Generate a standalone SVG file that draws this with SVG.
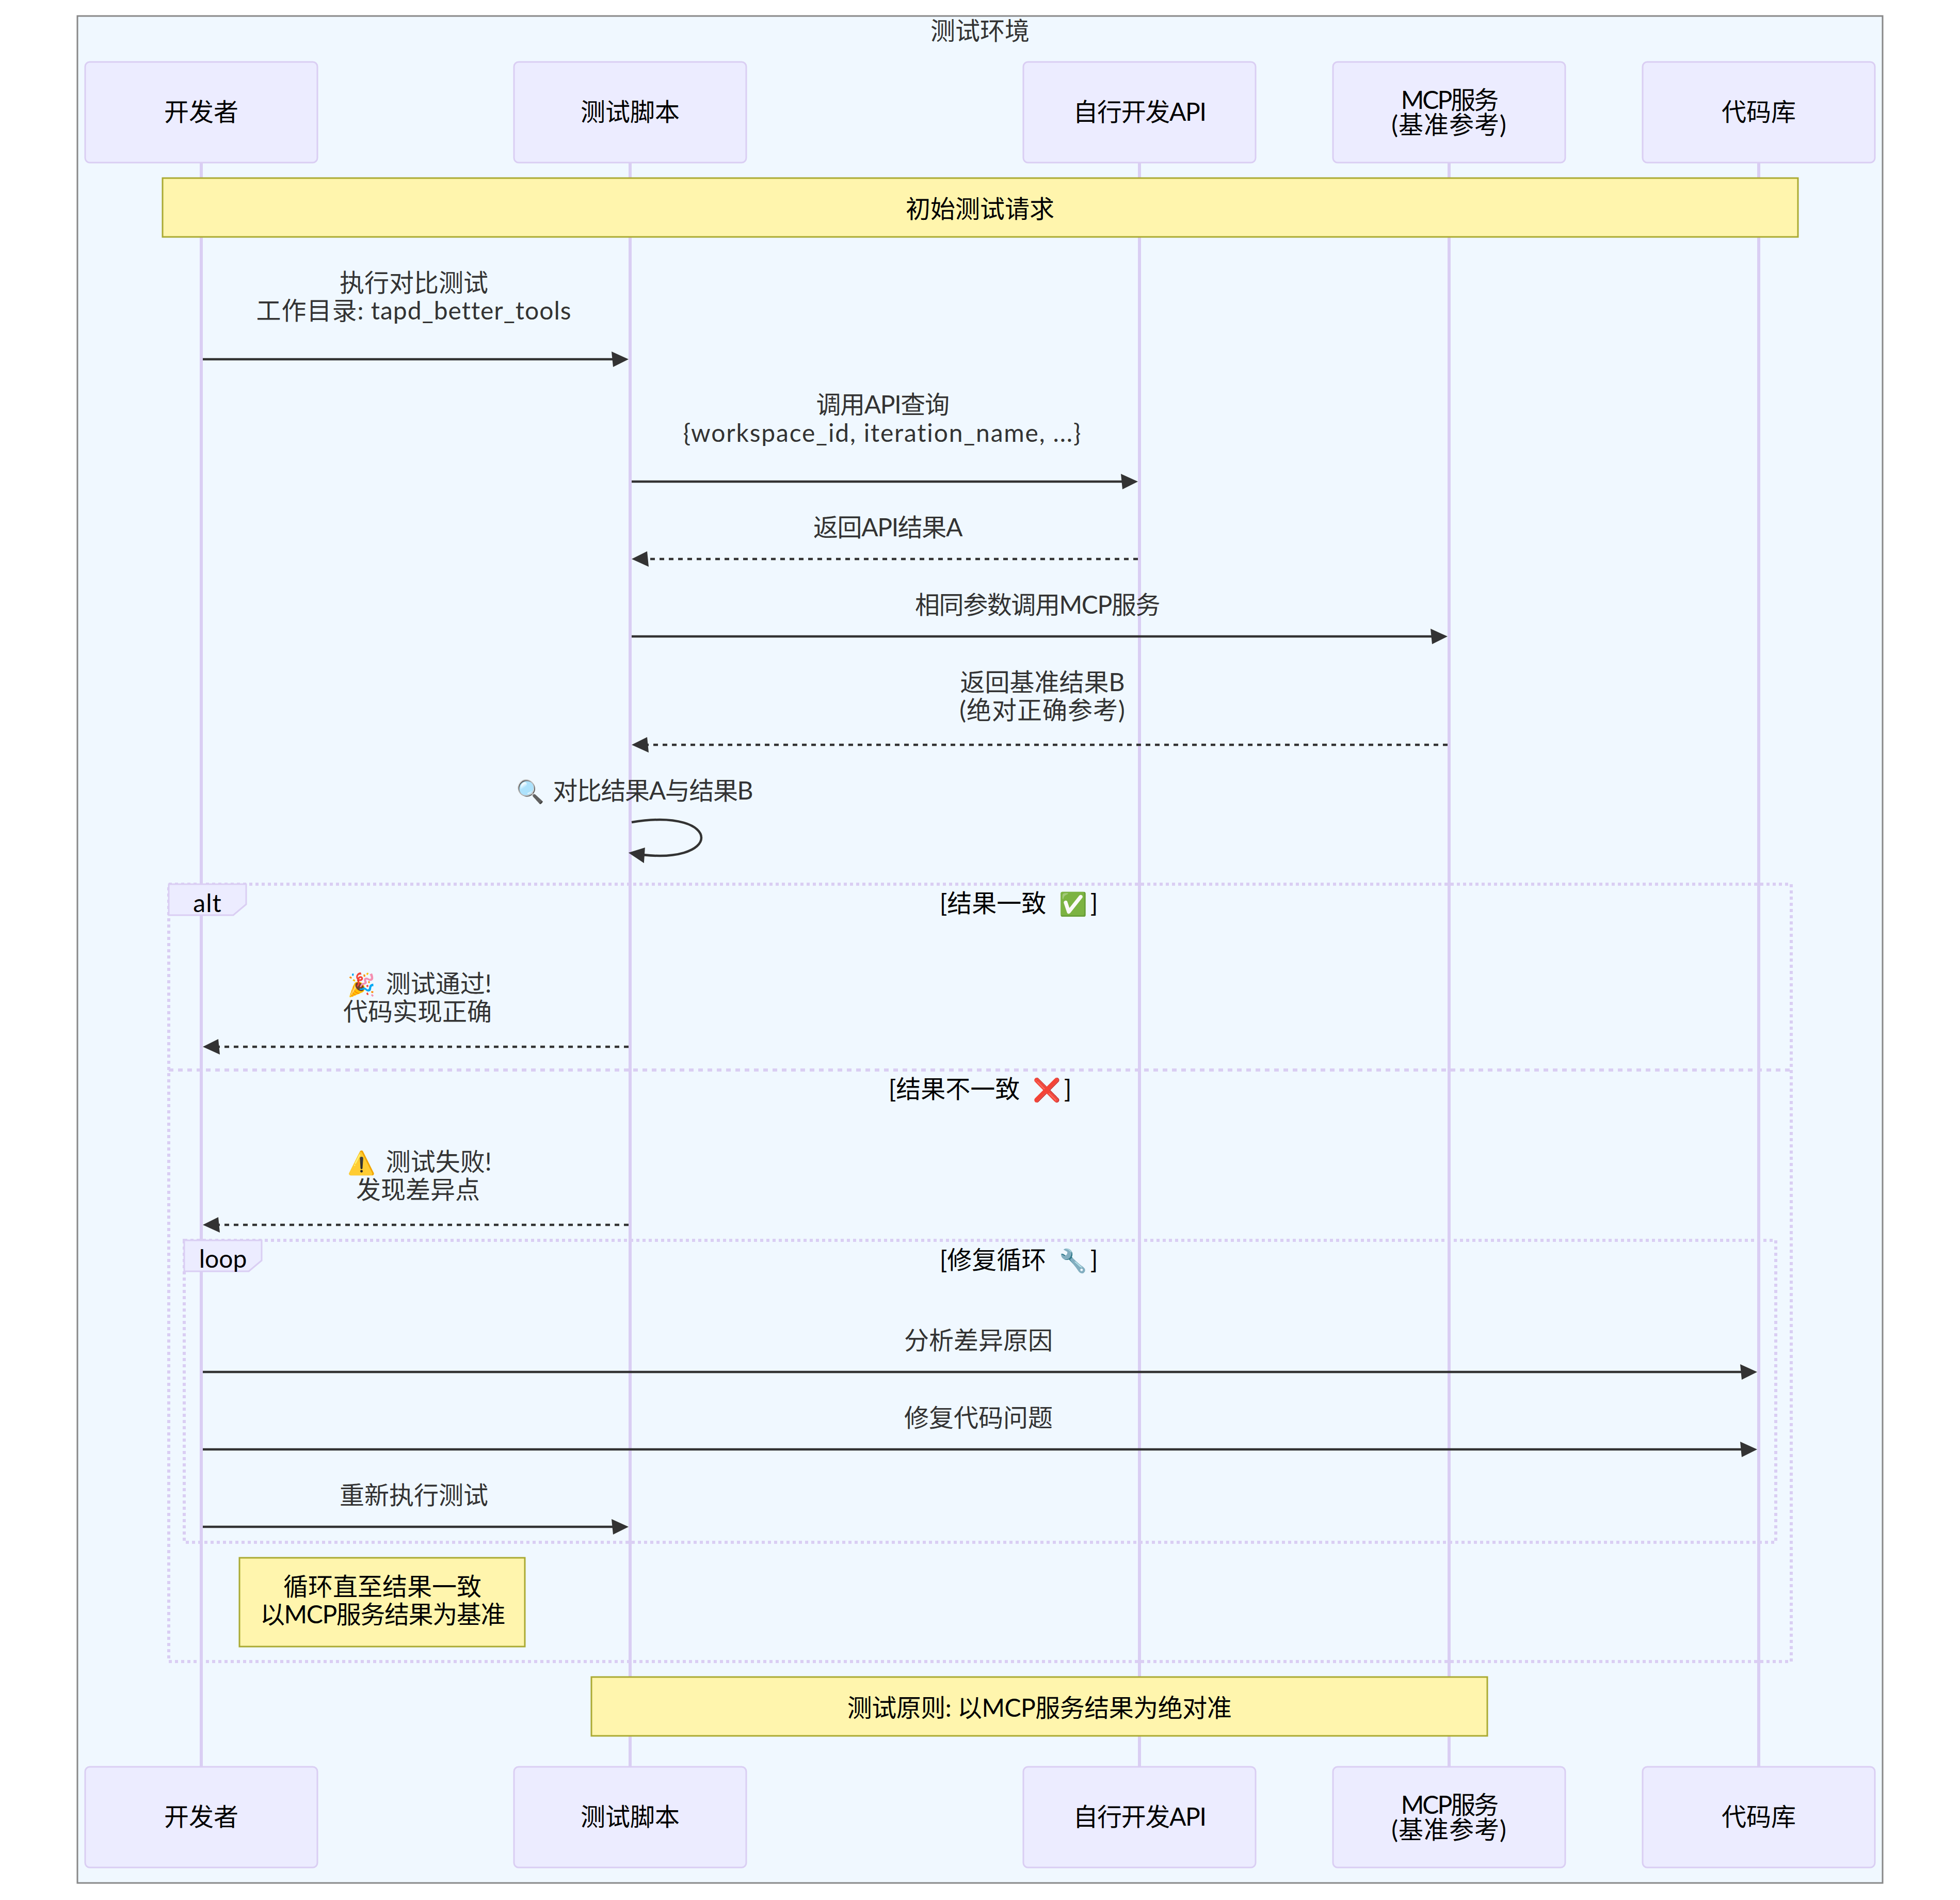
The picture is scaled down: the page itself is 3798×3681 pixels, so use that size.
<svg xmlns="http://www.w3.org/2000/svg" width="3798" height="3681" viewBox="0 0 3798 3681">
<style>
text{font-family:"Lato","Noto Sans CJK SC",sans-serif;font-size:48px;text-anchor:middle;fill:#000}
.m{fill:#333}
.s0{letter-spacing:-.5px}
.s1{letter-spacing:-1.4px}
.s3{letter-spacing:-3px}
.w1{letter-spacing:1px}
.w2{letter-spacing:1.8px}
.e{font-size:44px}
.actor{fill:#ECECFF;stroke:#DACEF3;stroke-width:3}
.life{stroke:#DACEF3;stroke-width:6}
.note{fill:#FFF5AD;stroke:#AAAA33;stroke-width:3}
.frame{fill:none;stroke:#DACEF3;stroke-width:6;stroke-dasharray:6 6}
.sec{fill:none;stroke:#DACEF3;stroke-width:6;stroke-dasharray:9 9}
.lab{fill:#ECECFF;stroke:#DACEF3;stroke-width:3}
.msg{fill:none;stroke:#333;stroke-width:4.5;marker-end:url(#arrow)}
.dash{stroke-dasharray:9 9}
</style>
<defs>
<marker id="arrow" viewBox="-1 0 12 10" refX="7.9" refY="5" markerUnits="userSpaceOnUse" markerWidth="36" markerHeight="30" orient="auto"><path d="M-1,0L10,5L0,10z" fill="#333"/></marker>
</defs>
<rect id="box" x="150" y="31" width="3498" height="3617" fill="#F0F8FF" stroke="#888" stroke-width="3"/>
<text class="m" x="1899" y="77">测试环境</text>
<g id="lifelines">
<line class="life" x1="390" y1="315" x2="390" y2="3423"/>
<line class="life" x1="1221" y1="315" x2="1221" y2="3423"/>
<line class="life" x1="2208" y1="315" x2="2208" y2="3423"/>
<line class="life" x1="2808" y1="315" x2="2808" y2="3423"/>
<line class="life" x1="3408" y1="315" x2="3408" y2="3423"/>
</g>
<g id="actor-dev"><rect class="actor" x="165" y="120" width="450" height="195" rx="9"/><text x="390" y="234">开发者</text></g>
<g id="actor-script"><rect class="actor" x="996" y="120" width="450" height="195" rx="9"/><text x="1221" y="234">测试脚本</text></g>
<g id="actor-api"><rect class="actor" x="1983" y="120" width="450" height="195" rx="9"/><text class="s1" x="2208" y="234">自行开发API</text></g>
<g id="actor-mcp"><rect class="actor" x="2583" y="120" width="450" height="195" rx="9"/><text class="s3" x="2808" y="211">MCP服务</text><text class="w1" x="2808" y="259">(基准参考)</text></g>
<g id="actor-repo"><rect class="actor" x="3183" y="120" width="450" height="195" rx="9"/><text x="3408" y="234">代码库</text></g>
<g id="actor-dev-bottom"><rect class="actor" x="165" y="3423" width="450" height="195" rx="9"/><text x="390" y="3537">开发者</text></g>
<g id="actor-script-bottom"><rect class="actor" x="996" y="3423" width="450" height="195" rx="9"/><text x="1221" y="3537">测试脚本</text></g>
<g id="actor-api-bottom"><rect class="actor" x="1983" y="3423" width="450" height="195" rx="9"/><text class="s1" x="2208" y="3537">自行开发API</text></g>
<g id="actor-mcp-bottom"><rect class="actor" x="2583" y="3423" width="450" height="195" rx="9"/><text class="s3" x="2808" y="3514">MCP服务</text><text class="w1" x="2808" y="3562">(基准参考)</text></g>
<g id="actor-repo-bottom"><rect class="actor" x="3183" y="3423" width="450" height="195" rx="9"/><text x="3408" y="3537">代码库</text></g>
<g id="note-start"><rect class="note" x="315" y="345" width="3169" height="114"/><text x="1899" y="422">初始测试请求</text></g>
<g id="frame-alt">
<rect class="frame" x="327" y="1713" width="3144" height="1506"/>
<line class="sec" x1="327" y1="2073" x2="3471" y2="2073"/>
<polygon class="lab" points="327,1713 477,1713 477,1752 452,1773 327,1773"/>
<text class="w1" x="402" y="1767">alt</text>
<text x="1974" y="1767">[结果一致 <tspan class="e" dx="12">✅</tspan><tspan dx="6">]</tspan></text>
<text x="1899" y="2127">[结果不一致 <tspan class="e" dx="12">❌</tspan><tspan dx="6">]</tspan></text>
</g>
<g id="frame-loop">
<rect class="frame" x="357" y="2403" width="3084" height="585"/>
<polygon class="lab" points="357,2403 507,2403 507,2442 482,2463 357,2463"/>
<text x="432" y="2456">loop</text>
<text x="1974" y="2458">[修复循环 <tspan class="e" dx="12">🔧</tspan><tspan dx="6">]</tspan></text>
</g>
<g id="connectors">
<line class="msg" x1="393" y1="696" x2="1211.7" y2="696"/>
<line class="msg" x1="1224" y1="933" x2="2198.7" y2="933"/>
<line class="msg dash" x1="2205" y1="1083" x2="1230.3" y2="1083"/>
<line class="msg" x1="1224" y1="1233" x2="2798.7" y2="1233"/>
<line class="msg dash" x1="2805" y1="1443" x2="1230.3" y2="1443"/>
<path class="msg" d="M1224,1593C1404,1563 1404,1683 1224,1653"/>
<line class="msg dash" x1="1218" y1="2028" x2="399.3" y2="2028"/>
<line class="msg dash" x1="1218" y1="2373" x2="399.3" y2="2373"/>
<line class="msg" x1="393" y1="2658" x2="3398.7" y2="2658"/>
<line class="msg" x1="393" y1="2808" x2="3398.7" y2="2808"/>
<line class="msg" x1="393" y1="2958" x2="1211.7" y2="2958"/>
</g>
<g id="labels">
<text class="m" x="802" y="565">执行对比测试</text>
<text class="m w1" x="802" y="619">工作目录: tapd_better_tools</text>
<text class="m s1" x="1710" y="801">调用API查询</text>
<text class="m w2" x="1710" y="856">{workspace_id, iteration_name, ...}</text>
<text class="m s1" x="1720" y="1039">返回API结果A</text>
<text class="m s1" x="2010" y="1189">相同参数调用MCP服务</text>
<text class="m" x="2020" y="1339">返回基准结果B</text>
<text class="m w1" x="2020" y="1393">(绝对正确参考)</text>
<text class="m s1" x="1229" y="1549"><tspan class="e">🔍</tspan><tspan dx="7"> 对比结果A与结果B</tspan></text>
<text class="m" x="813" y="1923"><tspan class="e">🎉</tspan><tspan dx="7"> 测试通过!</tspan></text>
<text class="m" x="809" y="1977">代码实现正确</text>
<text class="m" x="813" y="2268"><tspan class="e">⚠️</tspan><tspan dx="7"> 测试失败!</tspan></text>
<text class="m" x="810" y="2322">发现差异点</text>
<text class="m" x="1896" y="2614">分析差异原因</text>
<text class="m" x="1896" y="2764">修复代码问题</text>
<text class="m" x="802" y="2914">重新执行测试</text>
</g>
<g id="note-loop"><rect class="note" x="464" y="3018" width="553" height="172"/><text x="741" y="3091">循环直至结果一致</text><text class="s1" x="741" y="3145">以MCP服务结果为基准</text></g>
<g id="note-principle"><rect class="note" x="1146" y="3249" width="1736" height="114"/><text class="s0" x="2014" y="3326">测试原则: 以MCP服务结果为绝对准</text></g>
</svg>
